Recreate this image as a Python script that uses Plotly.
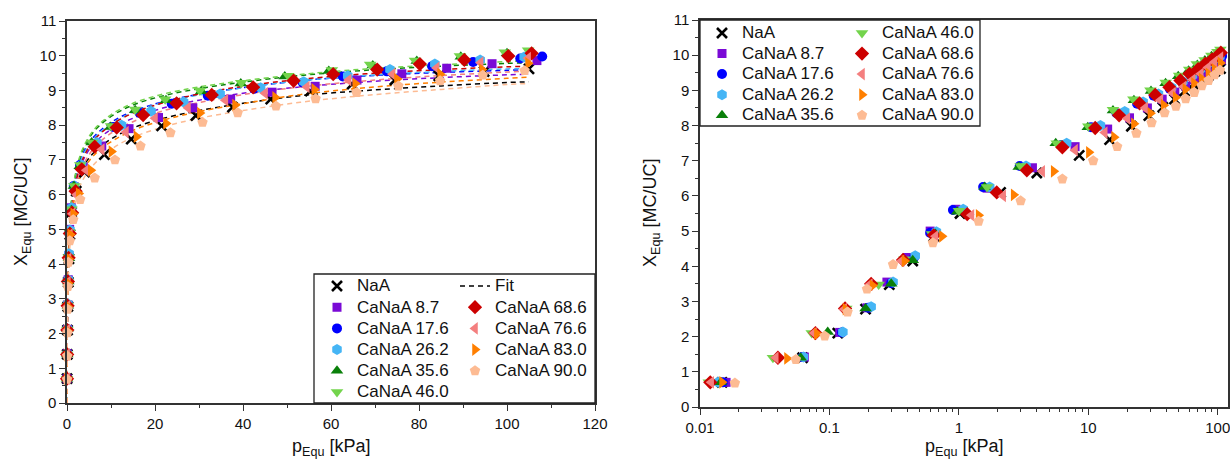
import plotly.graph_objects as go

# ---------------- data ----------------
names = ["NaA", "CaNaA 8.7", "CaNaA 17.6", "CaNaA 26.2", "CaNaA 35.6",
         "CaNaA 46.0", "CaNaA 68.6", "CaNaA 76.6", "CaNaA 83.0", "CaNaA 90.0"]

p_NaA = [0.0148, 0.062, 0.116, 0.19, 0.29, 0.44, 0.64, 1.02, 2.1, 4.0, 8.5, 14.6, 21.5, 29.3, 37.6, 46.3, 55.3, 64.8, 74.5, 84.5, 94.8, 105.0]
X_NaA = [0.70, 1.40, 2.10, 2.78, 3.48, 4.15, 4.85, 5.50, 6.10, 6.65, 7.15, 7.60, 7.98, 8.28, 8.52, 8.75, 8.98, 9.18, 9.30, 9.42, 9.54, 9.62]

p_87 = [0.0159, 0.064, 0.12, 0.195, 0.278, 0.40, 0.60, 0.95, 1.65, 3.7, 7.9, 14.1, 20.8, 28.6, 37.2, 46.6, 56.4, 65.9, 76.1, 86.3, 96.6, 106.8]
X_87 = [0.70, 1.42, 2.12, 2.82, 3.55, 4.25, 5.00, 5.62, 6.22, 6.80, 7.40, 7.90, 8.22, 8.50, 8.75, 8.95, 9.12, 9.30, 9.48, 9.64, 9.77, 9.86]

p_176 = [0.015, 0.062, 0.125, 0.20, 0.30, 0.45, 0.60, 0.90, 1.54, 2.95, 6.2, 10.5, 16.5, 23.8, 32.0, 42.5, 53.6, 62.7, 72.7, 83.0, 92.3, 103.0, 108.0]
X_176 = [0.70, 1.42, 2.12, 2.82, 3.52, 4.25, 4.95, 5.60, 6.25, 6.85, 7.45, 7.95, 8.35, 8.62, 8.85, 9.05, 9.22, 9.40, 9.55, 9.70, 9.82, 9.92, 9.98]

p_262 = [0.0138, 0.063, 0.127, 0.21, 0.31, 0.46, 0.67, 1.08, 1.73, 3.3, 6.8, 12.4, 19.1, 26.5, 34.8, 44.0, 53.8, 63.8, 73.4, 83.6, 93.9, 103.9]
X_262 = [0.70, 1.42, 2.13, 2.85, 3.55, 4.30, 4.98, 5.62, 6.25, 6.85, 7.50, 8.00, 8.40, 8.67, 8.90, 9.08, 9.25, 9.42, 9.60, 9.76, 9.88, 9.96]

p_356 = [0.0145, 0.060, 0.097, 0.19, 0.30, 0.44, 0.66, 0.97, 1.58, 2.9, 5.6, 9.9, 15.5, 22.5, 30.5, 39.5, 49.5, 59.5, 69.5, 79.5, 89.5, 100.0]
X_356 = [0.70, 1.40, 2.13, 2.80, 3.50, 4.17, 4.92, 5.55, 6.25, 6.82, 7.50, 7.95, 8.43, 8.72, 8.98, 9.20, 9.40, 9.56, 9.72, 9.85, 9.97, 10.07]

p_460 = [0.0117, 0.0366, 0.073, 0.135, 0.24, 0.38, 0.62, 1.0, 1.65, 3.0, 5.7, 10.0, 15.5, 22.3, 30.2, 39.6, 50.3, 60.2, 68.9, 79.1, 89.3, 99.5, 104.8]
X_460 = [0.70, 1.40, 2.10, 2.80, 3.48, 4.20, 4.92, 5.58, 6.25, 6.85, 7.50, 7.98, 8.45, 8.75, 9.00, 9.22, 9.42, 9.59, 9.75, 9.86, 9.99, 10.10, 10.16]

p_686 = [0.012, 0.040, 0.078, 0.132, 0.21, 0.37, 0.64, 1.16, 1.96, 3.35, 6.3, 11.3, 17.3, 24.9, 32.9, 42.3, 51.5, 60.5, 70.5, 80.2, 90.3, 100.3, 105.6]
X_686 = [0.70, 1.40, 2.10, 2.80, 3.50, 4.18, 4.88, 5.48, 6.10, 6.73, 7.38, 7.93, 8.29, 8.63, 8.87, 9.09, 9.28, 9.47, 9.60, 9.76, 9.88, 9.99, 10.07]

p_766 = [0.0122, 0.0385, 0.076, 0.13, 0.205, 0.36, 0.66, 1.25, 2.2, 4.4, 7.9, 13.4, 20.0, 27.5, 36.0, 45.0, 54.5, 64.0, 74.0, 84.0, 94.0, 104.8]
X_766 = [0.70, 1.40, 2.10, 2.78, 3.48, 4.15, 4.85, 5.45, 6.00, 6.70, 7.30, 7.80, 8.20, 8.50, 8.72, 8.92, 9.10, 9.30, 9.47, 9.65, 9.80, 9.93]

p_830 = [0.0148, 0.047, 0.080, 0.133, 0.215, 0.38, 0.74, 1.42, 2.65, 5.4, 10.1, 15.8, 22.5, 30.2, 38.2, 47.3, 56.2, 65.5, 75.0, 84.8, 94.3, 104.8]
X_830 = [0.70, 1.38, 2.08, 2.78, 3.45, 4.15, 4.85, 5.45, 6.03, 6.70, 7.24, 7.67, 8.05, 8.35, 8.58, 8.80, 9.03, 9.20, 9.33, 9.47, 9.60, 9.78]

p_900 = [0.0186, 0.055, 0.092, 0.138, 0.195, 0.31, 0.63, 1.42, 3.0, 6.3, 10.9, 16.7, 23.5, 30.8, 38.8, 47.5, 56.5, 65.8, 75.3, 84.8, 94.5, 104.0]
X_900 = [0.68, 1.35, 2.02, 2.70, 3.35, 4.05, 4.67, 5.28, 5.86, 6.48, 7.00, 7.40, 7.78, 8.08, 8.36, 8.55, 8.76, 8.94, 9.13, 9.28, 9.44, 9.57]

# fit curves
fit_p = [0, 0.1, 0.4, 1, 2, 3.5, 6, 10, 15, 22, 30, 40, 53, 68, 85, 100, 105]
fit_NaA = [0, 2.5, 4.2, 5.4, 6.15, 6.75, 7.2, 7.6, 7.92, 8.2, 8.42, 8.63, 8.85, 9.0, 9.13, 9.23, 9.25]
fit_87 = [0, 2.6, 4.4, 5.6, 6.35, 6.95, 7.45, 7.88, 8.2, 8.5, 8.72, 8.92, 9.1, 9.25, 9.37, 9.45, 9.47]
fit_176 = [0, 2.7, 4.5, 5.75, 6.55, 7.15, 7.65, 8.08, 8.4, 8.68, 8.89, 9.08, 9.28, 9.42, 9.52, 9.58, 9.6]
fit_262 = [0, 2.7, 4.5, 5.7, 6.5, 7.1, 7.6, 8.03, 8.37, 8.66, 8.87, 9.08, 9.28, 9.43, 9.55, 9.62, 9.63]
fit_356 = [0, 2.7, 4.5, 5.75, 6.6, 7.25, 7.8, 8.25, 8.58, 8.85, 9.05, 9.24, 9.43, 9.58, 9.7, 9.78, 9.8]
fit_460 = [0, 2.8, 4.6, 5.8, 6.65, 7.3, 7.85, 8.3, 8.63, 8.9, 9.1, 9.28, 9.46, 9.62, 9.74, 9.83, 9.85]
fit_686 = [0, 2.6, 4.3, 5.5, 6.35, 7.0, 7.55, 8.0, 8.35, 8.65, 8.9, 9.12, 9.32, 9.48, 9.6, 9.68, 9.7]
fit_766 = [0, 2.5, 4.2, 5.4, 6.2, 6.8, 7.32, 7.77, 8.1, 8.42, 8.65, 8.88, 9.1, 9.28, 9.43, 9.53, 9.56]
fit_830 = [0, 2.4, 4.1, 5.3, 6.05, 6.65, 7.12, 7.52, 7.85, 8.15, 8.39, 8.62, 8.88, 9.08, 9.24, 9.35, 9.38]
fit_900 = [0, 2.3, 3.9, 5.1, 5.85, 6.4, 6.85, 7.3, 7.65, 7.95, 8.2, 8.42, 8.66, 8.86, 9.03, 9.17, 9.2]

x_ticks_lin = [0, 20, 40, 60, 80, 100, 120]
y_ticks = list(range(0, 12))

# ---------------- style ----------------
colors = ["#000000", "#7a0ad6", "#0000ff", "#45b5f5", "#0a800a",
          "#73d44c", "#cc0000", "#f47f7f", "#ff7f00", "#fdbb93"]
symbols = ["x-thin", "square", "circle", "hexagon", "triangle-up",
           "triangle-down", "diamond", "triangle-left", "triangle-right", "pentagon"]
sizes = [10, 9, 10, 11, 11, 11, 11, 11, 11, 11]

P = [p_NaA, p_87, p_176, p_262, p_356, p_460, p_686, p_766, p_830, p_900]
X = [X_NaA, X_87, X_176, X_262, X_356, X_460, X_686, X_766, X_830, X_900]
FITS = [fit_NaA, fit_87, fit_176, fit_262, fit_356, fit_460, fit_686, fit_766, fit_830, fit_900]

FONT = "Liberation Sans, Arial, sans-serif"
W, H = 1230, 465


def lab(s):
    return '<span style="font-size:17px">' + s + '</span>'


def mk(i):
    m = dict(symbol=symbols[i], size=sizes[i], color=colors[i], line=dict(width=0))
    if symbols[i] == "x-thin":
        m["line"] = dict(width=2.6, color=colors[i])
    return m


def px2x(px):
    return px / W


def py2y(py):
    return 1 - py / H


fig = go.Figure()

# fits (left panel)
for i in range(len(names)):
    fig.add_trace(go.Scatter(
        x=fit_p, y=FITS[i], mode="lines",
        line=dict(color=colors[i], width=1.5, dash="5px,4px", shape="spline"),
        xaxis="x", yaxis="y", name=lab("Fit"), showlegend=(i == 0), legend="legend2",
        hoverinfo="skip"))

# data left panel
left_leg = ["legend"] * 6 + ["legend2"] * 4
for i in range(len(names)):
    fig.add_trace(go.Scatter(
        x=P[i], y=X[i], mode="markers", marker=mk(i), name=lab(names[i]),
        xaxis="x", yaxis="y", legend=left_leg[i], cliponaxis=False))

# data right panel
right_leg = ["legend3"] * 5 + ["legend4"] * 5
for i in range(len(names)):
    fig.add_trace(go.Scatter(
        x=P[i], y=X[i], mode="markers", marker=mk(i), name=lab(names[i]),
        xaxis="x2", yaxis="y2", legend=right_leg[i], cliponaxis=False))

axcol = "#333333"
common = dict(showline=True, linecolor=axcol, linewidth=1.5, mirror=True, showgrid=False,
              zeroline=False, ticks="outside", ticklen=6, tickwidth=1.2, tickcolor=axcol,
              automargin=False, ticklabeloverflow="allow",
              tickfont=dict(family=FONT, size=15, color="#111"))

fig.update_layout(
    width=W, height=H, margin=dict(l=0, r=0, t=0, b=0, autoexpand=False),
    paper_bgcolor="white", plot_bgcolor="white",
    font=dict(family=FONT, color="#111"),
    xaxis=dict(domain=[px2x(67), px2x(595)], range=[0, 120], tickvals=x_ticks_lin,
               minor=dict(ticks="outside", ticklen=3.5, dtick=10, tickcolor=axcol, tickwidth=1.2),
               anchor="y", **common),
    yaxis=dict(domain=[py2y(403), py2y(21)], range=[0, 11], tickvals=y_ticks,
               minor=dict(ticks="outside", ticklen=3.5, dtick=0.5, tickcolor=axcol, tickwidth=1.2),
               anchor="x", **common),
    xaxis2=dict(domain=[px2x(700), px2x(1228)], type="log", range=[-2, 2.079], dtick=1,
                minor=dict(ticks="outside", ticklen=3.5, dtick="D1", tickcolor=axcol, tickwidth=1.2),
                anchor="y2", **common),
    yaxis2=dict(domain=[py2y(407), py2y(20)], range=[0, 11], tickvals=y_ticks,
                minor=dict(ticks="outside", ticklen=3.5, dtick=0.5, tickcolor=axcol, tickwidth=1.2),
                anchor="x2", **common),
)

legstyle = dict(bgcolor="rgba(0,0,0,0)", borderwidth=0, xanchor="left", yanchor="top",
                tracegroupgap=0, itemclick=False)
fig.update_layout(
    legend=dict(x=px2x(317), y=py2y(270.4), font=dict(family=FONT, size=14, color="#111"), **legstyle),
    legend2=dict(x=px2x(455), y=py2y(270.4), font=dict(family=FONT, size=14, color="#111"), **legstyle),
    legend3=dict(x=px2x(702), y=py2y(17.7), font=dict(family=FONT, size=13.5, color="#111"), **legstyle),
    legend4=dict(x=px2x(842), y=py2y(17.7), font=dict(family=FONT, size=13.5, color="#111"), **legstyle),
)

# legend frames
fig.add_shape(type="rect", xref="paper", yref="paper", x0=px2x(314), x1=px2x(595),
              y0=py2y(403), y1=py2y(274), line=dict(color="#222", width=1.3), layer="above")
fig.add_shape(type="rect", xref="paper", yref="paper", x0=px2x(700), x1=px2x(980),
              y0=py2y(126), y1=py2y(20), line=dict(color="#222", width=1.3), layer="above")

# axis titles
tfont = dict(family=FONT, size=18, color="#111")
fig.add_annotation(text="p<sub>Equ</sub> [kPa]", xref="paper", yref="paper", x=px2x(331), y=py2y(447),
                   showarrow=False, font=tfont, xanchor="center", yanchor="middle")
fig.add_annotation(text="p<sub>Equ</sub> [kPa]", xref="paper", yref="paper", x=px2x(964), y=py2y(447),
                   showarrow=False, font=tfont, xanchor="center", yanchor="middle")
fig.add_annotation(text="X<sub>Equ</sub> [MC/UC]", xref="paper", yref="paper", x=px2x(22), y=py2y(212),
                   showarrow=False, font=tfont, textangle=-90, xanchor="center", yanchor="middle")
fig.add_annotation(text="X<sub>Equ</sub> [MC/UC]", xref="paper", yref="paper", x=px2x(652), y=py2y(213),
                   showarrow=False, font=tfont, textangle=-90, xanchor="center", yanchor="middle")

# remove the default page margin so the 1230x465 figure fills the window exactly
fig.write_html("out.html", config={"displayModeBar": False},
               post_script="document.body.style.margin='0';document.body.style.overflow='hidden';")
